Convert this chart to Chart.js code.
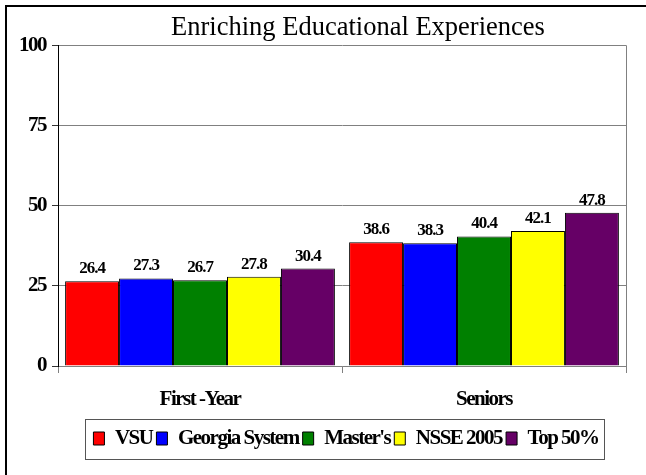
<!DOCTYPE html>
<html>
<head>
<meta charset="utf-8">
<script src="https://cdn.jsdelivr.net/npm/chart.js@4.4.0/dist/chart.umd.min.js"></script>
<style>
html, body { margin: 0; padding: 0; background: #fff; }
#wrap { position: relative; width: 646px; height: 475px; }
</style>
</head>
<body>
<div id="wrap"><canvas id="myChart"></canvas></div>
<script>
var categories = ['First -Year', 'Seniors'];
var seriesNames = ['VSU', 'Georgia System', "Master's", 'NSSE 2005', 'Top 50%'];
var vsu = [26.4, 38.6];
var georgia = [27.3, 38.3];
var masters = [26.7, 40.4];
var nsse = [27.8, 42.1];
var top50 = [30.4, 47.8];
var yTicks = [0, 25, 50, 75, 100];
var colors = ['#ff0000', '#0000ff', '#008000', '#ffff00', '#660066'];

var serif = '"Liberation Serif", "Times New Roman", serif';
var tight = '-1.5px'; // bold labels in the original are squeezed

// outer frame, shifted title/legend, box round legend, right border of plot
var framePlugin = {
    id: 'frame',
    beforeUpdate: function(chart) {
        chart.ctx.letterSpacing = tight;
    },
    beforeDraw: function(chart) {
        var ctx = chart.ctx;
        ctx.letterSpacing = tight;
        ctx.save();
        ctx.fillStyle = '#000';
        ctx.fillRect(5, 5, 2, chart.height - 5);
        ctx.fillRect(5, 5, chart.width - 5, 2);
        ctx.restore();
    },
    afterLayout: function(chart) {
        var t = chart.titleBlock;
        if (t) {
            t.left += 40;
            t.right += 40;
            if (!t._plainText) {
                var orig = t.draw;
                t.draw = function(area) {
                    var c = chart.ctx;
                    var prev = c.letterSpacing;
                    c.letterSpacing = '0px';
                    orig.call(t, area);
                    c.letterSpacing = prev;
                };
                t._plainText = true;
            }
        }
        if (chart.legend) {
            chart.legend.left += 28;
            chart.legend.right += 28;
        }
    },
    beforeDatasetsDraw: function(chart) {
        var ctx = chart.ctx;
        var a = chart.chartArea;
        ctx.save();
        ctx.strokeStyle = '#808080';
        ctx.lineWidth = 1;
        ctx.beginPath();
        ctx.moveTo(Math.round(a.right) + 0.5, a.top);
        ctx.lineTo(Math.round(a.right) + 0.5, a.bottom);
        ctx.stroke();
        ctx.restore();
    },
    afterDraw: function(chart) {
        var boxes = chart.legend && chart.legend.legendHitBoxes;
        if (!boxes || !boxes.length) return;
        var first = boxes[0], last = boxes[boxes.length - 1];
        var cy = first.top + first.height / 2;
        var ctx = chart.ctx;
        ctx.save();
        ctx.strokeStyle = '#555';
        ctx.lineWidth = 1;
        ctx.strokeRect(Math.round(first.left - 8) + 0.5, Math.round(cy - 20) + 0.5,
            Math.round(last.left + last.width - first.left + 14), 40);
        ctx.restore();
    }
};

// value labels on top of the bars
var valuePlugin = {
    id: 'values',
    afterDatasetsDraw: function(chart) {
        var ctx = chart.ctx;
        ctx.save();
        ctx.letterSpacing = '-1px';
        ctx.font = 'bold 17px ' + serif;
        ctx.fillStyle = '#000';
        ctx.textAlign = 'center';
        ctx.textBaseline = 'alphabetic';
        chart.data.datasets.forEach(function(ds, i) {
            chart.getDatasetMeta(i).data.forEach(function(bar, j) {
                ctx.fillText(ds.data[j].toFixed(1), bar.x, bar.y - 8);
            });
        });
        ctx.restore();
    }
};

var seriesData = [vsu, georgia, masters, nsse, top50];

var ctx = document.getElementById('myChart').getContext('2d');
var myChart = new Chart(ctx, {
    type: 'bar',
    data: {
        labels: categories,
        datasets: seriesNames.map(function(name, i) {
            return {
                label: name,
                data: seriesData[i],
                backgroundColor: colors[i],
                borderColor: '#000',
                borderWidth: 1,
                categoryPercentage: 0.95,
                barPercentage: 1.0
            };
        })
    },
    options: {
        responsive: true,
        maintainAspectRatio: false,
        animation: false,
        layout: {
            padding: { left: 10, right: 20, top: 0, bottom: 16 }
        },
        scales: {
            x: {
                grid: {
                    drawOnChartArea: false,
                    tickLength: 7,
                    color: '#808080'
                },
                border: { color: '#808080' },
                ticks: {
                    color: '#000',
                    padding: 14,
                    font: { family: serif, size: 21, weight: 'bold' }
                },
                afterFit: function(scale) { scale.height = 58; }
            },
            y: {
                min: 0,
                max: 100,
                grid: {
                    color: '#808080',
                    tickColor: '#333',
                    tickLength: 6
                },
                border: { color: '#000' },
                ticks: {
                    color: '#000',
                    padding: 6,
                    font: { family: serif, size: 21, weight: 'bold' }
                },
                afterBuildTicks: function(scale) {
                    scale.ticks = yTicks.map(function(v) { return { value: v }; });
                },
                afterFit: function(scale) { scale.width = 48; }
            }
        },
        plugins: {
            title: {
                display: true,
                text: 'Enriching Educational Experiences',
                color: '#000',
                font: { family: serif, size: 26.5, weight: 'normal' },
                padding: { top: 12, bottom: 1.5 }
            },
            legend: {
                display: true,
                position: 'bottom',
                labels: {
                    color: '#000',
                    boxWidth: 11,
                    boxHeight: 13,
                    padding: 4,
                    font: { family: serif, size: 21, weight: 'bold' }
                }
            },
            tooltip: { enabled: false }
        }
    },
    plugins: [framePlugin, valuePlugin]
});
</script>
</body>
</html>
